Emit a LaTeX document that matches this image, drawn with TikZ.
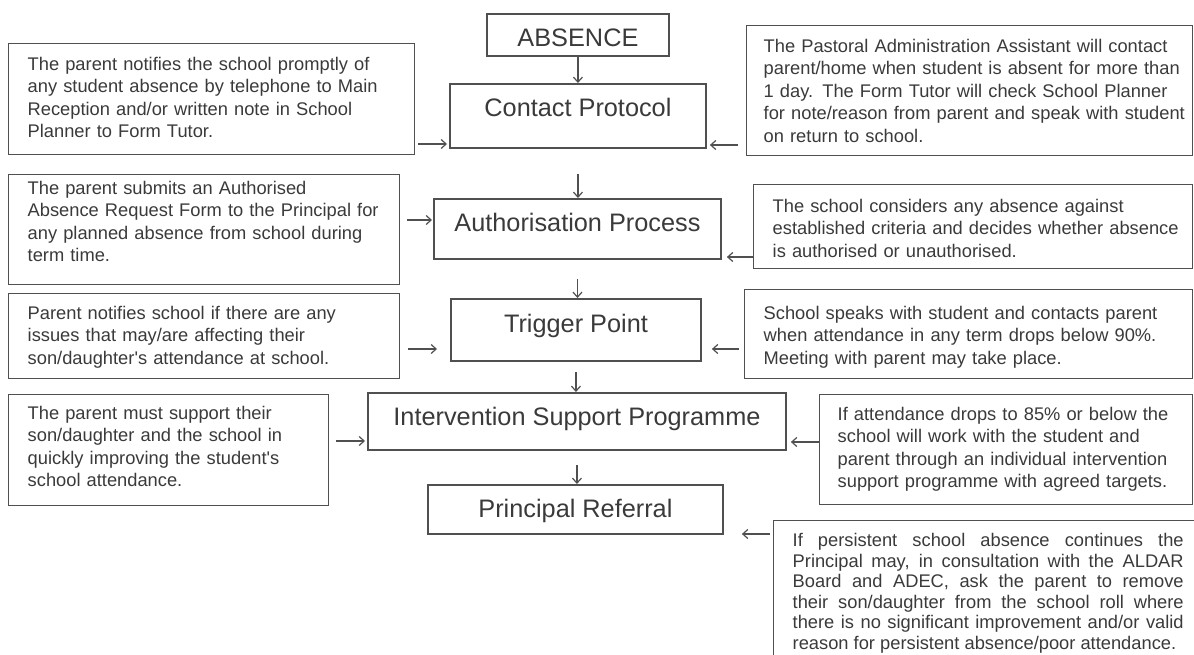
\documentclass[tikz,border=0pt]{standalone}
\usepackage{fontspec}
\setmainfont{Liberation Sans}
\usetikzlibrary{arrows.meta}
\definecolor{ink}{HTML}{3A3A3A}
\definecolor{rule}{HTML}{505050}
% note text with a left padding that holds for every line
\newcommand\notetext[2]{\leftskip=#1\relax #2\par}
\begin{document}
\begin{tikzpicture}[x=1pt,y=-1pt,
  stage/.style={draw=rule, line width=1.9pt, inner sep=0pt, anchor=north west,
    text=ink, font=\fontsize{25.3}{30}\selectfont},
  note/.style={draw=rule, line width=1.4pt, inner sep=0pt, anchor=north west,
    align=left, text=ink, font=\fontsize{18.3}{22.5}\selectfont},
  flow/.style={draw=rule, line width=1.2pt, -{Straight Barb[length=5pt,width=9pt]}}
]
\useasboundingbox (0,0) rectangle (1194,655);

% main sequence of stages
\node[stage, minimum width=182pt, text height=33pt, text depth=9pt]  (abs)  at (486,13)  {ABSENCE};
\node[stage, minimum width=256pt, text height=33pt, text depth=31pt] (cp)   at (449,83)  {Contact Protocol};
\node[stage, minimum width=287pt, text height=33pt, text depth=27pt] (auth) at (433,198) {Authorisation Process};
\node[stage, minimum width=250pt, text height=34pt, text depth=28pt] (trig) at (450,298) {Trigger Point};
\node[stage, minimum width=418pt, text height=33pt, text depth=24pt] (isp)  at (367,392) {Intervention Support Programme};
\node[stage, minimum width=295pt, text height=33pt, text depth=16pt] (pref) at (427,484) {Principal Referral};

% parent responsibilities (left)
\node[note, text width=406pt, text height=26.5pt, text depth=84.5pt] (l1) at (8,43)
  {\notetext{19pt}{The parent notifies the school promptly of\\ any student absence by telephone to Main\\ Reception and/or written note in School\\ Planner to Form Tutor.}};
\node[note, text width=391pt, text height=19.5pt, text depth=90.5pt] (l2) at (8,174)
  {\notetext{19pt}{The parent submits an Authorised\\ Absence Request Form to the Principal for\\ any planned absence from school during\\ term time.}};
\node[note, text width=391pt, text height=25.5pt, text depth=59.5pt] (l3) at (8,293)
  {\notetext{19pt}{Parent notifies school if there are any\\ issues that may/are affecting their\\ son/daughter\textquotesingle s attendance at school.}};
\node[note, text width=320pt, text height=24.5pt, text depth=86.5pt] (l4) at (8,394)
  {\notetext{19pt}{The parent must support their\\ son/daughter and the school in\\ quickly improving the student\textquotesingle s\\ school attendance.}};

% school actions (right)
\node[note, text width=446pt, text height=26.5pt, text depth=103.5pt] (r1) at (746,25)
  {\notetext{17pt}{The Pastoral Administration Assistant will contact\\ parent/home when student is absent for more than\\ 1 day. The Form Tutor will check School Planner\\ for note/reason from parent and speak with student\\ on return to school.}};
\node[note, text width=439pt, text height=27.5pt, text depth=56.5pt] (r2) at (753,184)
  {\notetext{19pt}{The school considers any absence against\\ established criteria and decides whether absence\\ is authorised or unauthorised.}};
\node[note, text width=448pt, text height=29.5pt, text depth=59.5pt] (r3) at (744,289)
  {\notetext{19pt}{School speaks with student and contacts parent\\ when attendance in any term drops below 90\%.\\ Meeting with parent may take place.}};
\node[note, text width=373pt, text height=25.5pt, text depth=84.5pt] (r4) at (819,394)
  {\notetext{18pt}{If attendance drops to 85\% or below the\\ school will work with the student and\\ parent through an individual intervention\\ support programme with agreed targets.}};
\node[note, align=justify, font=\fontsize{18.3}{20.5}\selectfont,
      text width=430pt, text height=26pt, text depth=124pt] (r5) at (773,520)
  {\notetext{19pt}{\rightskip=20pt\relax If persistent school absence continues the\linebreak
   Principal may, in consultation with the ALDAR\linebreak
   Board and ADEC, ask the parent to remove\linebreak
   their son/daughter from the school roll where\linebreak
   there is no significant improvement and/or valid\linebreak
   reason for persistent absence/poor attendance.}};

% arrow levels
\coordinate (h1)  at (0,144);
\coordinate (h1r) at (0,145);
\coordinate (h2)  at (0,220);
\coordinate (h2r) at (0,257);
\coordinate (h3)  at (0,349);
\coordinate (h4)  at (0,441);
\coordinate (h4r) at (0,442);
\coordinate (h5)  at (0,534);

% downward flow
\draw[flow] (abs.south) -- (abs.south |- cp.north);
\draw[flow, shorten <=25pt] (cp.south)   -- (cp.south |- auth.north);
\draw[flow, shorten <=19pt] (auth.south) -- (auth.south |- trig.north);
\draw[flow, shorten <=10pt] (trig.south) -- (trig.south |- isp.north);
\draw[flow, shorten <=14pt] (isp.south)  -- (isp.south |- pref.north);

% side inputs
\draw[flow, shorten <=3pt, shorten >=2pt]  (l1.east |- h1)  -- (cp.west |- h1);
\draw[flow, shorten <=8pt, shorten >=3pt]  (r1.west |- h1r) -- (cp.east |- h1r);
\draw[flow, shorten <=7pt, shorten >=1pt]  (l2.east |- h2)  -- (auth.west |- h2);
\draw[flow, shorten >=5pt]                 (r2.west |- h2r) -- (auth.east |- h2r);
\draw[flow, shorten <=8pt, shorten >=13pt] (l3.east |- h3)  -- (trig.west |- h3);
\draw[flow, shorten <=5pt, shorten >=10pt] (r3.west |- h3)  -- (trig.east |- h3);
\draw[flow, shorten <=7pt, shorten >=2pt]  (l4.east |- h4)  -- (isp.west |- h4);
\draw[flow, shorten >=4pt]                 (r4.west |- h4r) -- (isp.east |- h4r);
\draw[flow, shorten <=3pt, shorten >=18pt] (r5.west |- h5)  -- (pref.east |- h5);
\end{tikzpicture}
\end{document}
